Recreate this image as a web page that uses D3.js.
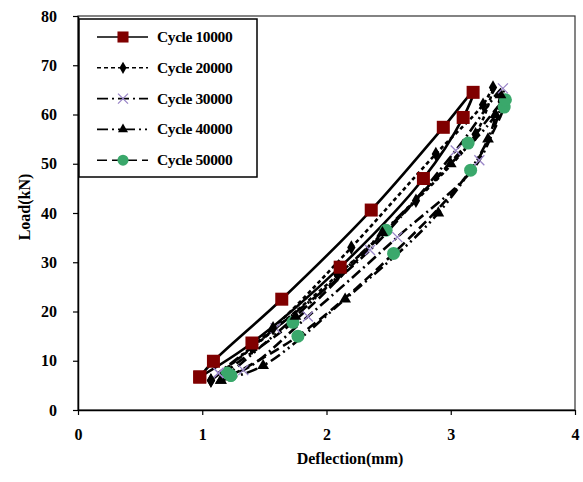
<!doctype html>
<html>
<head>
  <meta charset="utf-8">
  <title>Load vs Deflection</title>
  <style>
    body { margin: 0; background: #fff; }
    text { font-family: "Liberation Serif", "Times New Roman", serif; font-weight: bold; }
  </style>
</head>
<body>
  <div id="vis"></div>
  <script src="https://cdn.jsdelivr.net/npm/d3@7"></script>
  <script>

    // each loop: loading branch then unloading branch, back to start
    var cycle10000 = [[0.98,6.7],[1.40,13.6],[2.11,29.0],[2.78,47.0],[3.10,59.4],[3.18,64.5],[2.94,57.4],[2.36,40.6],[1.64,22.5],[1.09,9.9],[0.98,6.7]];
    var cycle20000 = [[1.07,6.0],[1.40,12.6],[2.09,27.4],[2.72,42.5],[3.20,56.0],[3.34,65.5],[3.26,62.0],[2.88,52.0],[2.20,33.0],[1.57,16.6],[1.07,6.0]];
    var cycle30000 = [[1.13,7.5],[1.33,8.1],[1.85,19.0],[2.57,35.1],[3.23,50.7],[3.42,65.3],[3.04,52.7],[2.35,32.5],[1.59,16.6],[1.13,7.5]];
    var cycle40000 = [[1.15,6.0],[1.49,9.0],[2.15,22.5],[2.90,40.0],[3.30,55.0],[3.40,64.0],[3.36,60.0],[3.00,50.0],[2.45,36.0],[1.75,19.0],[1.15,6.0]];
    var cycle50000 = [[1.23,7.0],[1.77,15.0],[2.54,31.8],[3.16,48.7],[3.43,61.5],[3.44,63.0],[3.14,54.2],[2.48,36.5],[1.73,17.8],[1.20,7.5],[1.23,7.0]];

    var names = ["Cycle 10000", "Cycle 20000", "Cycle 30000", "Cycle 40000", "Cycle 50000"];
    var xTicks = [0, 1, 2, 3, 4];
    var yTicks = [0, 10, 20, 30, 40, 50, 60, 70, 80];

    var series = [
      {name: names[0], pts: cycle10000, dash: null, marker: "square", color: "#800000"},
      {name: names[1], pts: cycle20000, dash: "4,3", marker: "diamond", color: "#000"},
      {name: names[2], pts: cycle30000, dash: "11,4,2,4", marker: "cross", color: "#9a86c8"},
      {name: names[3], pts: cycle40000, dash: "11,4,2,4,2,4", marker: "triangle", color: "#000"},
      {name: names[4], pts: cycle50000, dash: "10,5", marker: "circle", color: "#3aa86b"}
    ];

    var W = 583, H = 482;
    var mLeft = 78, mRight = 575, mTop = 16, mBottom = 410;

    var svg = d3.select("#vis").append("svg")
      .attr("width", W)
      .attr("height", H);

    var x = d3.scaleLinear().domain([0, 4]).range([mLeft, mRight]);
    var y = d3.scaleLinear().domain([0, 80]).range([mBottom, mTop]);

    // plot frame
    svg.append("rect")
      .attr("x", mLeft).attr("y", mTop)
      .attr("width", mRight - mLeft).attr("height", mBottom - mTop)
      .attr("fill", "none").attr("stroke", "#333").attr("stroke-width", 1.2);

    var xAxis = svg.append("g")
      .attr("transform", "translate(0," + mBottom + ")")
      .call(d3.axisBottom(x).tickValues(xTicks).tickFormat(d3.format("d"))
        .tickSize(5).tickSizeOuter(0).tickPadding(14));
    var yAxis = svg.append("g")
      .attr("transform", "translate(" + mLeft + ",0)")
      .call(d3.axisLeft(y).tickValues(yTicks).tickFormat(d3.format("d"))
        .tickSize(5).tickSizeOuter(0).tickPadding(16));

    [xAxis, yAxis].forEach(function(g){
      g.select(".domain").attr("stroke", "#000").attr("stroke-width", 1.5);
      g.selectAll(".tick line").attr("stroke", "#000").attr("stroke-width", 1.2);
      g.selectAll("text").attr("font-size", 16).attr("fill", "#000")
        .attr("font-family", "Liberation Serif").attr("font-weight", "bold");
    });

    svg.append("text")
      .attr("x", 350).attr("y", 464)
      .attr("text-anchor", "middle")
      .attr("font-size", 16)
      .text("Deflection(mm)");

    svg.append("text")
      .attr("transform", "translate(30,207) rotate(-90)")
      .attr("text-anchor", "middle")
      .attr("font-size", 16)
      .text("Load(kN)");

    var line = d3.line()
      .x(function(d){ return x(d[0]); })
      .y(function(d){ return y(d[1]); })
      .curve(d3.curveCatmullRom.alpha(0.5));

    function drawMarker(g, type, color, cx, cy, k) {
      k = k || 1;
      if (type === "square") {
        g.append("rect").attr("x", cx - 6.5 * k).attr("y", cy - 6.5 * k)
          .attr("width", 13 * k).attr("height", 13 * k).attr("fill", color);
      } else if (type === "diamond") {
        g.append("path").attr("d", d3.symbol(d3.symbolDiamond, 60 * k * k)())
          .attr("transform", "translate(" + cx + "," + cy + ")").attr("fill", color);
      } else if (type === "cross") {
        g.append("path").attr("d", "M-5,-5L5,5M-5,5L5,-5")
          .attr("transform", "translate(" + cx + "," + cy + ")")
          .attr("stroke", color).attr("stroke-width", 1.3).attr("fill", "none");
      } else if (type === "triangle") {
        g.append("path").attr("d", d3.symbol(d3.symbolTriangle, 60 * k * k)())
          .attr("transform", "translate(" + cx + "," + cy + ")").attr("fill", color);
      } else {
        g.append("circle").attr("cx", cx).attr("cy", cy).attr("r", 6.5 * k).attr("fill", color);
      }
    }

    var plot = svg.append("g");

    // draw later cycles first so cycle 10000 stays on top
    series.slice().reverse().forEach(function(s){
      plot.append("path")
        .attr("d", line(s.pts))
        .attr("fill", "none")
        .attr("stroke", "#000")
        .attr("stroke-width", 2.6)
        .attr("stroke-dasharray", s.dash);
    });
    series.slice().reverse().forEach(function(s){
      var mg = plot.append("g");
      s.pts.forEach(function(d){
        drawMarker(mg, s.marker, s.color, x(d[0]), y(d[1]));
      });
    });

    // legend
    var lg = svg.append("g");
    lg.append("rect")
      .attr("x", 79).attr("y", 19).attr("width", 178).attr("height", 158)
      .attr("fill", "#fff").attr("stroke", "#000").attr("stroke-width", 1.5);

    series.forEach(function(s, i){
      var ly = 37 + i * 30.8;
      lg.append("line")
        .attr("x1", 97).attr("x2", 148).attr("y1", ly).attr("y2", ly)
        .attr("stroke", "#000").attr("stroke-width", 1.6)
        .attr("stroke-dasharray", s.dash);
      drawMarker(lg, s.marker, s.color, 123, ly, 0.85);
      lg.append("text")
        .attr("x", 157).attr("y", ly + 5)
        .attr("font-size", 15.5)
        .attr("letter-spacing", "-0.4px")
        .text(s.name);
    });

  </script>
</body>
</html>
